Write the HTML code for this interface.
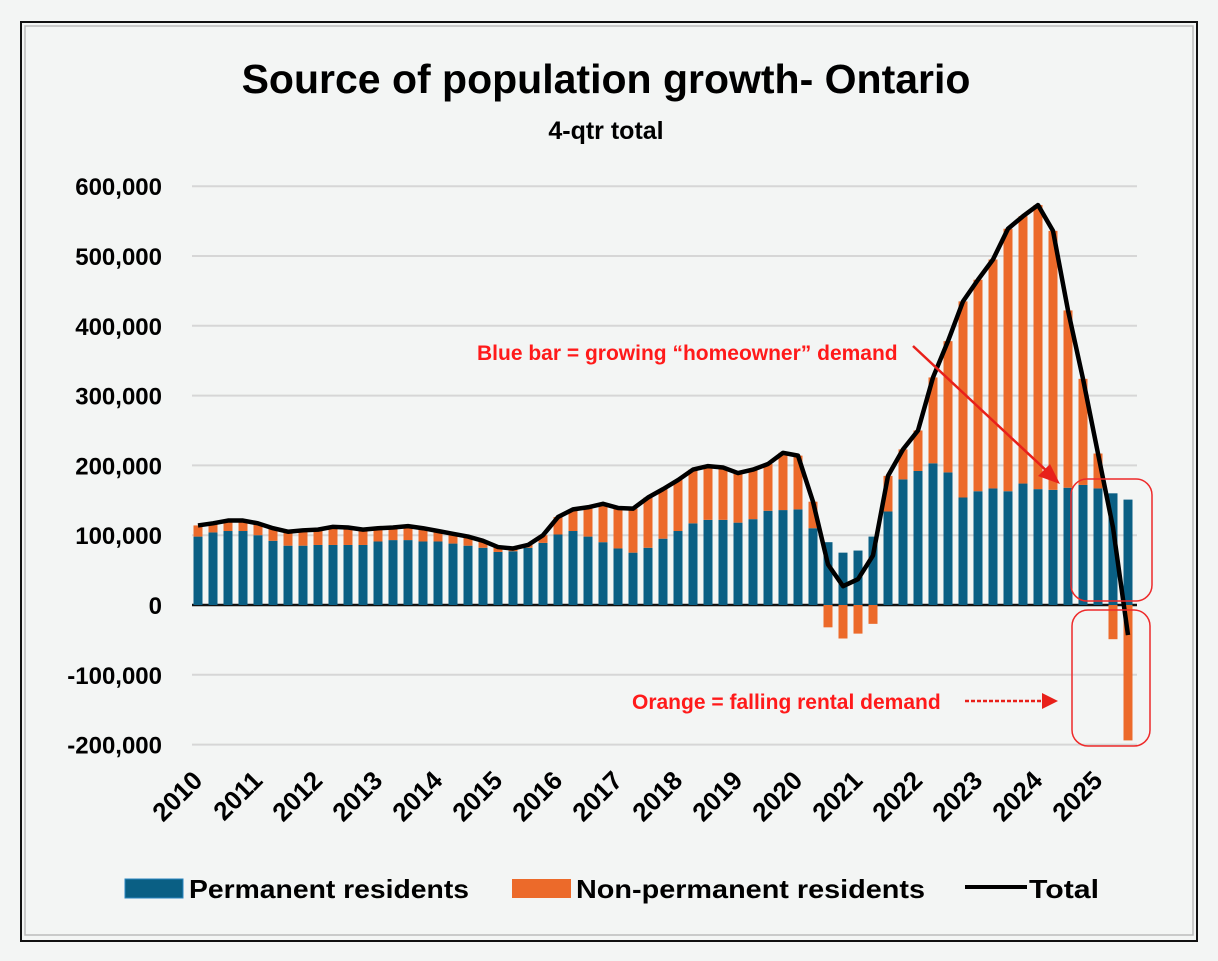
<!DOCTYPE html>
<html><head><meta charset="utf-8"><style>
html,body{margin:0;padding:0;background:#f3f5f4;}
svg{display:block;font-family:"Liberation Sans",sans-serif;}
</style></head><body>
<svg id="chart" width="1218" height="961" viewBox="0 0 1218 961">
<rect x="0" y="0" width="1218" height="961" fill="#f3f5f4"/>
<rect x="21" y="22" width="1176" height="919" fill="none" stroke="#111" stroke-width="2"/>
<rect x="25" y="26" width="1168" height="909" fill="none" stroke="#bbb" stroke-width="1.5"/>
<text x="606" y="93" text-anchor="middle" font-size="41" font-weight="bold" fill="#000">Source of population growth- Ontario</text>
<text x="606" y="139" text-anchor="middle" font-size="25" font-weight="bold" fill="#000">4-qtr total</text>
<g id="grid"></g><g id="ylabels"></g><g id="bars"></g><g id="xlabels"></g>
<path id="total-line" fill="none" stroke="#000" stroke-width="4.5" stroke-linejoin="round"/>
<text x="477" y="360" font-size="21" font-weight="bold" fill="#ff1a1a">Blue bar = growing “homeowner” demand</text>
<line x1="913" y1="346" x2="1050" y2="474" stroke="#e8201a" stroke-width="2.5"/>
<polygon points="1060,484 1038,476 1050,464" fill="#e8201a"/>
<text x="632" y="709" font-size="21" font-weight="bold" fill="#ff1a1a">Orange = falling rental demand</text>
<line x1="965" y1="701" x2="1043" y2="701" stroke="#e8201a" stroke-width="2.5" stroke-dasharray="4,2"/>
<polygon points="1058,701 1042,693 1042,709" fill="#e8201a"/>
<rect x="1071" y="479" width="81" height="122" rx="16" fill="none" stroke="#ee2a2a" stroke-width="1.5"/>
<rect x="1072" y="610" width="78" height="136" rx="16" fill="none" stroke="#ee2a2a" stroke-width="1.5"/>
<g>
<rect x="125" y="879" width="58" height="19" fill="#0a5f84" stroke="#2a85c0" stroke-width="1"/>
<text x="189" y="898" font-size="26" font-weight="bold" textLength="280" lengthAdjust="spacingAndGlyphs">Permanent residents</text>
<rect x="512" y="879" width="59" height="19" fill="#ec6a2a"/>
<text x="576" y="898" font-size="26" font-weight="bold" textLength="349" lengthAdjust="spacingAndGlyphs">Non-permanent residents</text>
<line x1="965" y1="887" x2="1027" y2="887" stroke="#000" stroke-width="4"/>
<text x="1029" y="898" font-size="26" font-weight="bold" textLength="70" lengthAdjust="spacingAndGlyphs">Total</text>
</g>
</svg>
<script>
const permanent = [98,104,106,106,100,92,85,85,86,86,86,86,91,93,93,91,91,88,85,82,76,77,82,89,101,106,98,90,81,75,82,95,
  106,117,122,122,118,123,135,136,137,110,90,75,78,98,134,180,192,203,190,154,163,167,163,174,166,165,168,172,167,160,151];
const totals = [114,117,121,121,117,110,105,107,108,112,111,108,110,111,113,110,106,102,98,92,83,81,86,100,126,137,140,145,139,138,154,166,
  179,194,199,197,189,194,202,218,214,148,58,27,37,71,185,223,250,326,378,435,466,495,539,557,573,536,422,324,217,111,-43];
const yTicks = [600000,500000,400000,300000,200000,100000,0,-100000,-200000];
const yearLabels = ['2010','2011','2012','2013','2014','2015','2016','2017','2018','2019','2020','2021','2022','2023','2024','2025'];

const NS='http://www.w3.org/2000/svg';
const x0=198, step=15, yZero=605, pxPer100k=69.8;
const xPos = i => x0 + i*step;
const yPos = v => yZero - v*1000/100000*pxPer100k;
const yPosRaw = v => yZero - v/100000*pxPer100k;
function mk(tag, attrs, parent){const e=document.createElementNS(NS,tag);for(const k in attrs)e.setAttribute(k,attrs[k]);parent.appendChild(e);return e;}

const grid=document.getElementById('grid'), yl=document.getElementById('ylabels');
yTicks.forEach(t=>{
  const y=yPosRaw(t);
  const l=mk('line',{x1:192,x2:1137,y1:y,y2:y,stroke:t===0?'#111':'#d6d6d6','stroke-width':t===0?2.5:2},grid);
  
  
  const tx=mk('text',{x:162,y:y+9,'text-anchor':'end','font-size':24,'font-weight':'bold',fill:'#000'},yl);
  tx.textContent=t.toLocaleString('en-US');
  
  
});

const bars=document.getElementById('bars');
const bw=9;
permanent.forEach((p,i)=>{
  const npr=totals[i]-p;
  const cx=xPos(i);
  const b=mk('rect',{x:cx-bw/2,y:yPos(p),width:bw,height:yPos(0)-yPos(p),fill:'#0a5f84'},bars);
  
  
  let y1,h;
  if(npr>=0){y1=yPos(p+npr);h=yPos(p)-yPos(p+npr);}else{y1=yPos(0);h=yPos(npr)-yPos(0);}
  const o=mk('rect',{x:cx-bw/2,y:y1,width:bw,height:h,fill:'#ec6a2a'},bars);
  
  
});

document.getElementById('total-line').setAttribute('d', totals.map((v,i)=>(i?'L':'M')+xPos(i)+','+yPos(v)).join(' '));

const xl=document.getElementById('xlabels');
yearLabels.forEach((yr,k)=>{
  const cx=xPos(k*4)+6, cy=782;
  const t=mk('text',{x:cx,y:cy,'text-anchor':'end','font-size':26,'font-weight':'bold',transform:`rotate(-45 ${cx} ${cy})`},xl);
  t.textContent=yr;
  
  
});
</script>
</body></html>
